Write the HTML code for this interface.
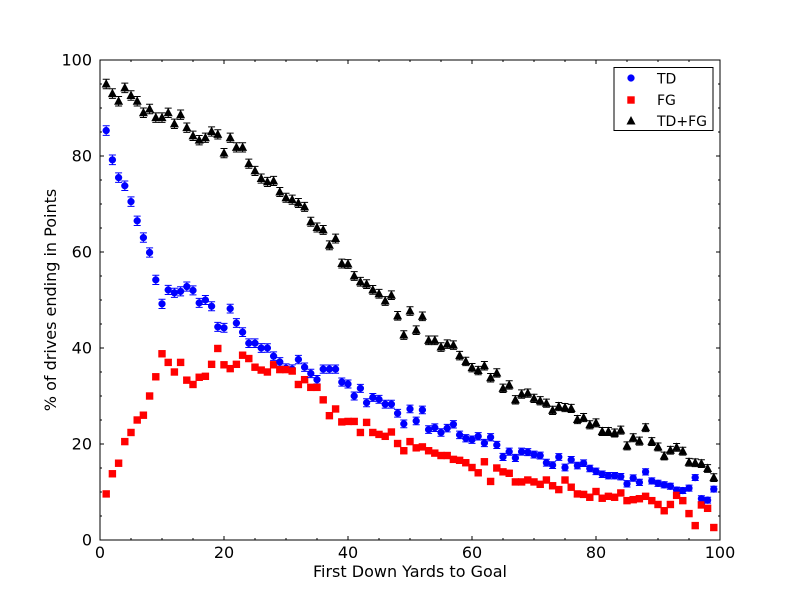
<!DOCTYPE html>
<html><head><meta charset="utf-8"><style>
body{margin:0;background:#fff;}
svg text{font-family:"DejaVu Sans","Liberation Sans",sans-serif;}
</style></head><body>
<svg id="s" width="800" height="600" xmlns="http://www.w3.org/2000/svg">
<rect width="800" height="600" fill="#fff"/>
</svg>
<script>
var TD=[85.3,79.2,75.5,73.8,70.5,66.5,63,59.9,54.2,49.2,52.1,51.5,51.8,52.8,52,49.4,50,48.7,44.4,44.2,48.2,45.2,43.3,41,41,40,40,38.3,37.1,35.8,35.6,37.6,36,34.7,33.4,35.6,35.6,35.6,32.9,32.5,30,31.6,28.6,29.7,29.3,28.3,28.3,26.4,24.2,27.3,24.8,27.1,23,23.4,22.4,23.3,24.1,21.9,21.2,20.9,21.6,20.2,21.4,19.8,17.3,18.4,17.1,18.4,18.3,17.8,17.6,16.1,15.6,17.3,15.1,16.7,15.5,16,14.9,14.3,13.7,13.4,13.4,13.2,11.7,12.9,12,14.2,12.3,11.8,11.5,11.2,10.4,10.3,10.8,13,8.6,8.3,10.6];
var FG=[9.6,13.8,16,20.5,22.4,25,26,30,34,38.8,37,35,37,33.3,32.4,33.9,34.1,36.6,39.9,36.5,35.7,36.6,38.5,37.8,36,35.4,35,36.5,35.5,35.5,35.2,32.4,33.4,31.8,31.8,29.2,25.9,27.3,24.6,24.7,24.7,22.4,24.5,22.4,22,21.6,22.5,20.1,18.6,20.5,19.2,19.4,18.6,18.1,17.6,17.6,16.8,16.6,16.1,15.1,14,16.3,12.2,15,14.2,13.9,12.1,12.1,12.5,12.1,11.6,12.5,11.3,10.5,12.5,11,9.6,9.5,8.9,10.1,8.7,9.1,8.9,9.8,8.2,8.4,8.6,9.1,8.2,7.4,6.1,7.4,9.3,8.2,5.5,3,7.3,6.6,2.6];
var TF=[95,93,91.4,94.2,92.6,91.4,89,89.8,88,88,89,86.7,88.6,85.9,84.2,83.3,83.8,85.1,84.5,80.6,83.8,81.8,81.8,78.4,76.9,75.3,74.6,74.8,72.5,71.3,70.9,70.2,69.4,66.3,65.1,64.6,61.4,62.8,57.6,57.5,55,53.8,53.3,52.1,51.3,49.8,51,46.7,42.7,47.7,43.7,46.6,41.6,41.6,40.2,40.8,40.6,38.4,37.2,35.9,35.3,36.3,33.8,34.8,31.6,32.3,29.2,30.4,30.6,29.5,29,28.5,27,27.8,27.6,27.4,25.1,25.5,24,24.4,22.6,22.6,22.3,22.9,19.6,21.3,20.6,23.4,20.5,19.4,17.5,18.7,19.3,18.5,16.2,16.1,15.9,14.9,13];
var X=function(v){return 100+v*6.2},Y=function(v){return 540-v*4.8};
var o='';
function eb(x,y,e,c){var y1=Y(y+e),y2=Y(y-e);o+='<path d="M'+x+' '+y1+'V'+y2+'M'+(x-3.5)+' '+y1+'h7M'+(x-3.5)+' '+y2+'h7" stroke="'+c+'" stroke-width="1" fill="none"/>';}
function circ(x,y){o+='<circle cx="'+x+'" cy="'+y+'" r="3.4" fill="#0000ff" stroke="#0000ff" stroke-width="0.5"/>';}
function sq(x,y){o+='<rect x="'+(x-3.7)+'" y="'+(y-3.7)+'" width="7.4" height="7.4" fill="#ff0000"/>';}
function tri(x,y){o+='<path d="M'+x+' '+(y-5)+'L'+(x+4.5)+' '+(y+3.5)+'L'+(x-4.5)+' '+(y+3.5)+'Z" fill="#000"/>';}
for(var i=0;i<99;i++){
 var x=X(i+1);
 var e1=0.6+0.4*(1-i/99), e3=1.0-0.2*(i/99);
 eb(x,TD[i],e1,'#0000ff'); circ(x,Y(TD[i]));
 eb(x,FG[i],0.6,'#ff0000'); sq(x,Y(FG[i]));
 eb(x,TF[i],e3,'#000'); tri(x,Y(TF[i]));
}
o+='<rect x="100" y="60" width="620" height="480" fill="none" stroke="#000" stroke-width="1"/>';
for(var v=0;v<=100;v+=5){
 var L=(v%20==0)?4:2;
 var px=X(v),py=Y(v);
 o+='<path d="M'+px+' 540v-'+L+'M'+px+' 60v'+L+'M100 '+py+'h'+L+'M720 '+py+'h-'+L+'" stroke="#000" stroke-width="1"/>';
 if(v%20==0){
  o+='<text x="'+px+'" y="558" font-size="16" text-anchor="middle">'+v+'</text>';
  o+='<text x="92" y="'+(py+5.5)+'" font-size="16" text-anchor="end">'+v+'</text>';
 }
}
o+='<text x="410" y="577" font-size="16" text-anchor="middle">First Down Yards to Goal</text>';
o+='<text transform="translate(56,300) rotate(-90)" font-size="16" text-anchor="middle">% of drives ending in Points</text>';
o+='<rect x="614" y="67.5" width="99" height="63" fill="#fff" stroke="#000" stroke-width="1"/>';
circ(631,78);o+='<text x="657" y="83.5" font-size="14">TD</text>';
sq(631,100);o+='<text x="657" y="105" font-size="14">FG</text>';
tri(631,121);o+='<text x="657" y="126" font-size="14">TD+FG</text>';
document.getElementById('s').innerHTML+=o;
</script>
</body></html>
